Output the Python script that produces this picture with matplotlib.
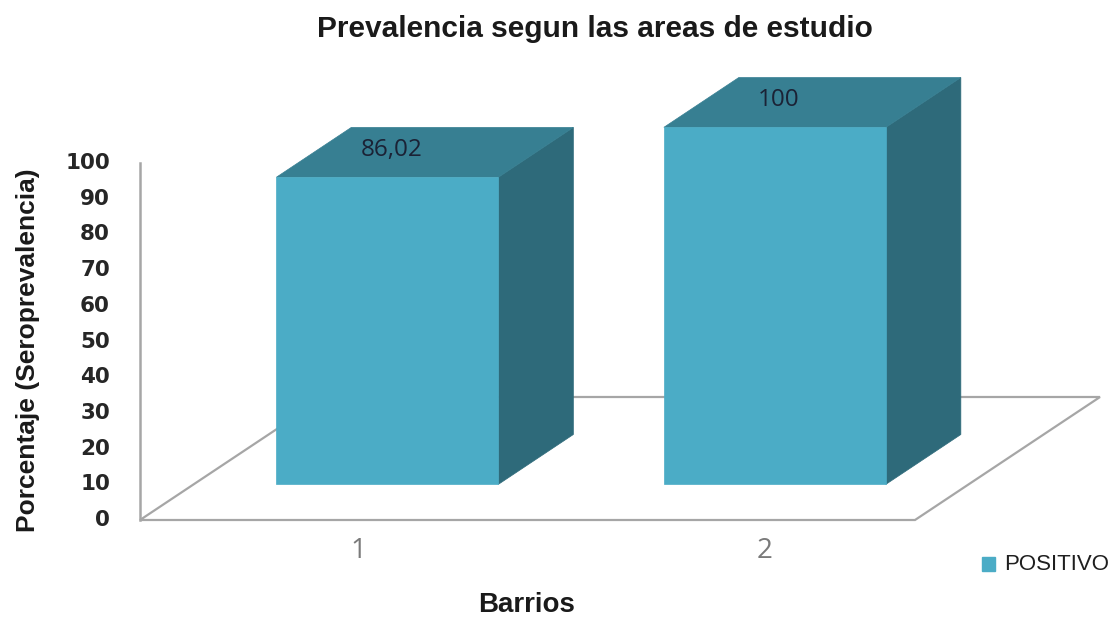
import matplotlib
matplotlib.use("Agg")
import matplotlib.pyplot as plt
from matplotlib.patches import Polygon, Rectangle

# Data
categories = ["1", "2"]
values = [86.02, 100]
value_labels = ["86,02", "100"]
y_ticks = [0, 10, 20, 30, 40, 50, 60, 70, 80, 90, 100]
series_name = "POSITIVO"
title = "Prevalencia segun las areas de estudio"
x_title = "Barrios"
y_title = "Porcentaje (Seroprevalencia)"

# Colours
FRONT = "#4BACC6"
TOP = "#377F92"
SIDE = "#2E6A7A"
GRID = "#A6A6A6"

W, H = 1117, 618
fig = plt.figure(figsize=(W / 100, H / 100), dpi=100)
ax = fig.add_axes([0, 0, 1, 1])

# Scale: category units along x, percent along y (front plane of the floor)
PX_X = 387.5          # pixels per category unit
PX_Y = 3.57           # pixels per percent
X0_PX, Y0_PX = 140, 520
ax.set_xlim(-X0_PX / PX_X, (W - X0_PX) / PX_X)
ax.set_ylim(-(H - Y0_PX) / PX_Y, Y0_PX / PX_Y)
ax.axis("off")

# Oblique depth projection
DX = 185 / PX_X
DY = 123 / PX_Y


def proj(x, v, d):
    return (x + d * DX, v + d * DY)


n = len(categories)
# Floor outline and left wall edge
floor = [proj(0, 0, 0), proj(n, 0, 0), proj(n, 0, 1), proj(0, 0, 1)]
ax.add_patch(Polygon(floor, closed=True, fill=False, edgecolor=GRID, lw=1.6, zorder=1))
ax.plot([0, 0], [0, 100], color=GRID, lw=1.8, zorder=1)

# 3-D columns
bar_w = 0.573
d_front, d_back = 0.29, 0.695
for i, v in enumerate(values):
    xc = i + 0.5
    x1, x2 = xc - bar_w / 2, xc + bar_w / 2
    front = [proj(x1, 0, d_front), proj(x2, 0, d_front), proj(x2, v, d_front), proj(x1, v, d_front)]
    top = [proj(x1, v, d_front), proj(x2, v, d_front), proj(x2, v, d_back), proj(x1, v, d_back)]
    side = [proj(x2, 0, d_front), proj(x2, 0, d_back), proj(x2, v, d_back), proj(x2, v, d_front)]
    for poly, col in ((side, SIDE), (top, TOP), (front, FRONT)):
        ax.add_patch(Polygon(poly, closed=True, facecolor=col, edgecolor=col, lw=0.5, zorder=3))
    lx, ly = proj(xc - 0.086, v + 0.7, (d_front + d_back) / 2)
    ax.text(lx, ly, value_labels[i], ha="center", va="center", fontsize=17.5,
            family="Open Sans", color="#1B2235", zorder=4)

# Value axis tick labels
for t in y_ticks:
    ax.text(-30 / PX_X, t, str(t), ha="right", va="center", fontsize=15.5,
            family="DejaVu Sans", weight="bold", color="#262626")

# Category tick labels
for i, c in enumerate(categories):
    ax.text(i + 0.563 + 0.05 * i, -31 / PX_Y, c, ha="center", va="center",
            fontsize=20, family="Open Sans", color="#7A7A7A")

# Titles
fig.text(595 / W, 1 - 29 / H, title, ha="center", va="center", fontsize=21.5,
         family="Liberation Sans", weight="bold", color="#1A1A1A")
fig.text(527 / W, 1 - 605 / H, x_title, ha="center", va="center", fontsize=20,
         family="Liberation Sans", weight="bold", color="#1A1A1A")
fig.text(28 / W, 1 - 350 / H, y_title, ha="center", va="center", rotation=90,
         fontsize=19, family="Liberation Sans", weight="bold", color="#1A1A1A")

# Legend: colour key and series name
fig.patches.append(Rectangle((982 / W, 1 - 571 / H), 13 / W, 14 / H,
                             transform=fig.transFigure, facecolor=FRONT,
                             edgecolor=FRONT, figure=fig))
fig.text(1004 / W, 1 - 564 / H, series_name, ha="left", va="center",
         fontsize=16, family="Liberation Sans", color="#1F1F1F")

fig.savefig("out.png", dpi=100)
